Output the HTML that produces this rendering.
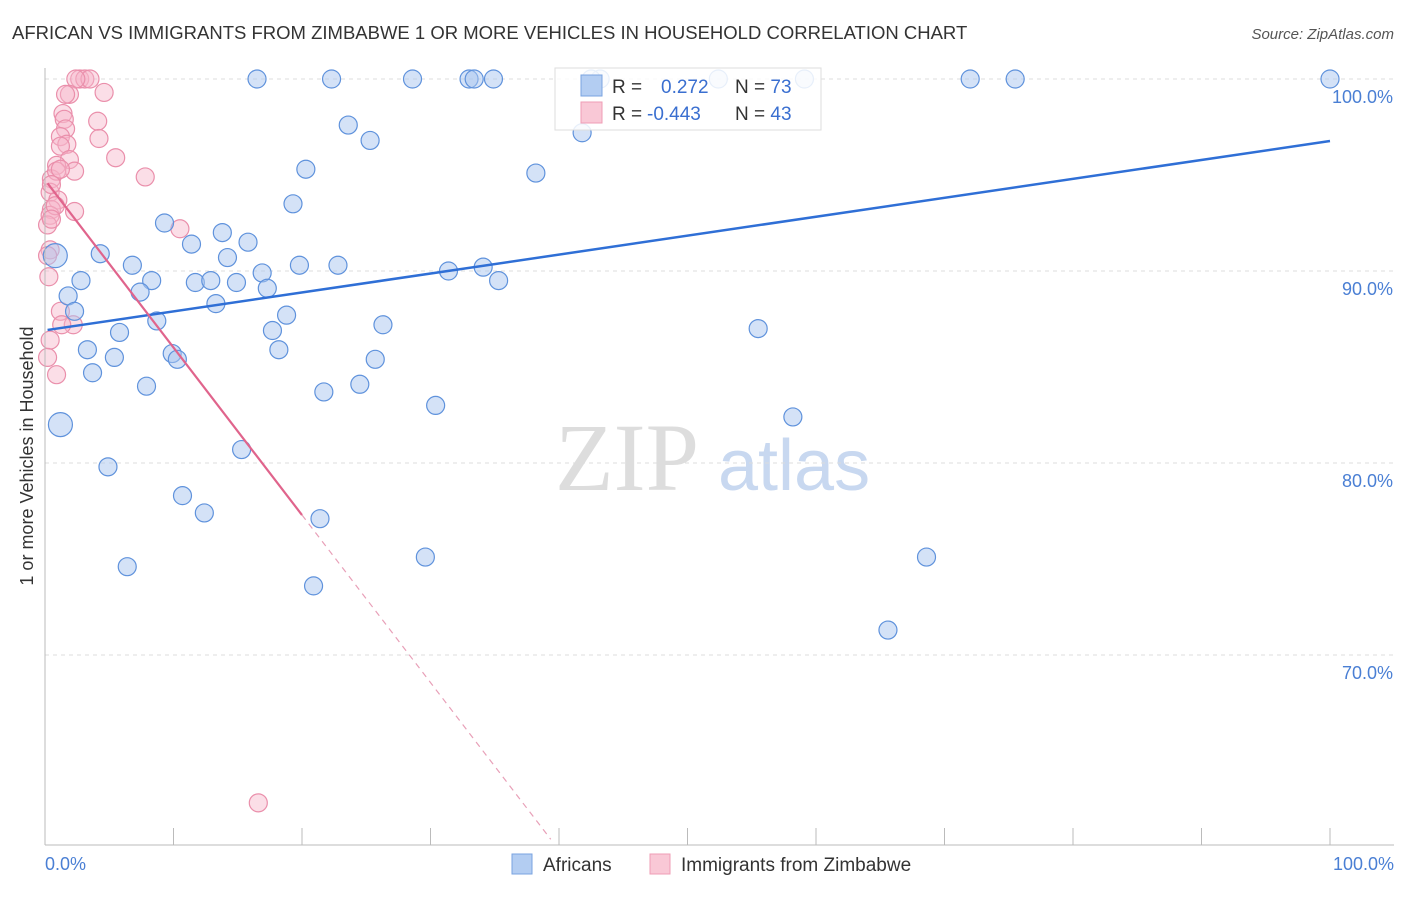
<!DOCTYPE html>
<html><head><meta charset="utf-8"><style>
body{margin:0;background:#fff;font-family:"Liberation Sans",sans-serif}
</style></head><body>
<svg id="c" width="1406" height="892" xmlns="http://www.w3.org/2000/svg" style="font-family:'Liberation Sans',sans-serif">
<text x="12" y="39" font-size="18.5" fill="#333">AFRICAN VS IMMIGRANTS FROM ZIMBABWE 1 OR MORE VEHICLES IN HOUSEHOLD CORRELATION CHART</text>
<text x="1394" y="39" font-size="15" fill="#555" font-style="italic" text-anchor="end">Source: ZipAtlas.com</text>
<text x="33" y="456" font-size="18" fill="#333" text-anchor="middle" transform="rotate(-90 33 456)">1 or more Vehicles in Household</text>
<text x="555" y="490" font-size="96" fill="#ddd" font-family="Liberation Serif,serif">ZIP</text>
<text x="718" y="490" font-size="72" fill="#c8d8f0">atlas</text>
<g id="grid"></g><g id="pts"></g><g id="lines"></g>
<line x1="45" y1="68" x2="45" y2="845" stroke="#bbb"/>
<line x1="45" y1="845" x2="1394" y2="845" stroke="#bbb"/>
<text x="45" y="870" font-size="18" fill="#4a7fd4">0.0%</text>
<text x="1394" y="870" font-size="18" fill="#4a7fd4" text-anchor="end">100.0%</text>
<g>
<rect x="555" y="68" width="266" height="62" fill="#fff" fill-opacity="0.85" stroke="#ddd"/>
<rect x="581" y="75" width="21" height="21" fill="#b3cdf2" stroke="#7aa3e0"/>
<rect x="581" y="102" width="21" height="21" fill="#f9c8d6" stroke="#ef9db5"/>
<text x="612" y="93" font-size="19" fill="#333">R = <tspan fill="#3a6fd0" x="661">0.272</tspan><tspan fill="#333" x="735">N = </tspan><tspan fill="#3a6fd0">73</tspan></text>
<text x="612" y="120" font-size="19" fill="#333">R = <tspan fill="#3a6fd0" x="647">-0.443</tspan><tspan fill="#333" x="735">N = </tspan><tspan fill="#3a6fd0">43</tspan></text>
</g>
<g>
<rect x="512" y="854" width="20" height="20" fill="#b3cdf2" stroke="#7aa3e0"/>
<text x="543" y="871" font-size="19" fill="#333">Africans</text>
<rect x="650" y="854" width="20" height="20" fill="#f9c8d6" stroke="#ef9db5"/>
<text x="681" y="871" font-size="19" fill="#333">Immigrants from Zimbabwe</text>
</g>
</svg>
<script>
const yTicks=[100,90,80,70];
const xTicks=[0,10,20,30,40,50,60,70,80,90,100];
const blueX=[16.5,22.3,28.6,33,33.4,34.9,43.2,52.4,59.1,72,75.5,100,42.5,23.6,25.3,41.8,20.3,38.2,19.3,9.3,13.8,11.4,15.8,14.2,0.8,4.3,6.8,8.3,2.8,16.9,19.8,22.8,31.4,34.1,35.3,11.7,12.9,14.9,17.3,7.4,1.8,13.3,2.3,18.8,8.7,17.7,26.3,5.8,55.5,3.3,9.9,10.3,5.4,18.2,25.7,3.7,7.9,21.7,24.5,30.4,1.2,58.2,15.3,4.9,10.7,12.4,21.4,6.4,29.6,68.6,20.9,65.6];
const blueY=[100,100,100,100,100,100,100,100,100,100,100,100,100,97.6,96.8,97.2,95.3,95.1,93.5,92.5,92,91.4,91.5,90.7,90.8,90.9,90.3,89.5,89.5,89.9,90.3,90.3,90,90.2,89.5,89.4,89.5,89.4,89.1,88.9,88.7,88.3,87.9,87.7,87.4,86.9,87.2,86.8,87,85.9,85.7,85.4,85.5,85.9,85.4,84.7,84,83.7,84.1,83,82,82.4,80.7,79.8,78.3,77.4,77.1,74.6,75.1,75.1,73.6,71.3];
const blueBig=[0,0,0,0,0,0,0,0,0,0,0,0,0,0,0,0,0,0,0,0,0,0,0,0,1,0,0,0,0,0,0,0,0,0,0,0,0,0,0,0,0,0,0,0,0,0,0,0,0,0,0,0,0,0,0,0,0,0,0,0,1,0,0,0,0,0,0,0,0,0,0,0];
const pinkX=[2.7,3.1,3.5,2.4,4.6,1.9,1.4,4.1,1.5,1.6,1.2,4.2,1.7,1.2,5.5,1.9,0.9,2.3,7.8,0.5,0.9,10.5,0.4,1,0.5,2.3,0.4,0.2,0.4,0.3,1.2,2.2,1.3,0.4,0.2,0.9,16.6,0.8,0.2,0.5,1.2,0.5,1.6];
const pinkY=[100,100,100,100,99.3,99.2,98.2,97.8,97.9,97.4,97,96.9,96.6,96.5,95.9,95.8,95.5,95.2,94.9,94.8,95.2,92.2,94.1,93.7,93.2,93.1,92.9,92.4,91.1,89.7,87.9,87.2,87.2,86.4,85.5,84.6,62.3,93.4,90.8,92.7,95.3,94.5,99.2];
const blueLine=[86.93,96.77];
const pinkLine=[94.74,77.29,20];
const X=v=>45+v*12.85, Y=v=>79+(100-v)*19.2;
const NS="http://www.w3.org/2000/svg";
function mk(t,a,p){const e=document.createElementNS(NS,t);for(const k in a)e.setAttribute(k,a[k]);document.getElementById(p).appendChild(e);return e;}
yTicks.forEach(t=>{const l=mk('line',{x1:45,x2:1394,y1:Y(t),y2:Y(t),stroke:'#ddd','stroke-dasharray':'4,4'},'grid');


const s=mk('text',{x:1393,y:Y(t)+24,'font-size':18,fill:'#4a7fd4','text-anchor':'end'},'grid');s.textContent=t.toFixed(1)+'%';

});
xTicks.forEach(t=>{const l=mk('line',{x1:X(t),x2:X(t),y1:828,y2:845,stroke:'#bbb'},'grid');

});
pinkX.forEach((x,i)=>{const c=mk('circle',{cx:X(x),cy:Y(pinkY[i]),r:9,fill:'#f7b6c9','fill-opacity':0.45,stroke:'#ea8fab','stroke-width':1.2},'pts');

});
blueX.forEach((x,i)=>{const c=mk('circle',{cx:X(x),cy:Y(blueY[i]),r:blueBig[i]?12:9,fill:'#a9c6f0','fill-opacity':0.5,stroke:'#5f92dc','stroke-width':1.2},'pts');

});
let l=mk('line',{x1:X(0.2),y1:Y(blueLine[0]),x2:X(100),y2:Y(blueLine[1]),stroke:'#2f6fd6','stroke-width':2.5},'lines');


const sl=(pinkLine[1]-pinkLine[0])/pinkLine[2];
l=mk('line',{x1:X(0.2),y1:Y(pinkLine[0]+sl*0.2),x2:X(pinkLine[2]),y2:Y(pinkLine[1]),stroke:'#e0648c','stroke-width':2.2},'lines');


const xe=(60.4-pinkLine[0])/sl;
l=mk('line',{x1:X(pinkLine[2]),y1:Y(pinkLine[1]),x2:X(xe),y2:Y(60.4),stroke:'#e8a0b8','stroke-width':1.2,'stroke-dasharray':'6,5'},'lines');


</script>
</body></html>
